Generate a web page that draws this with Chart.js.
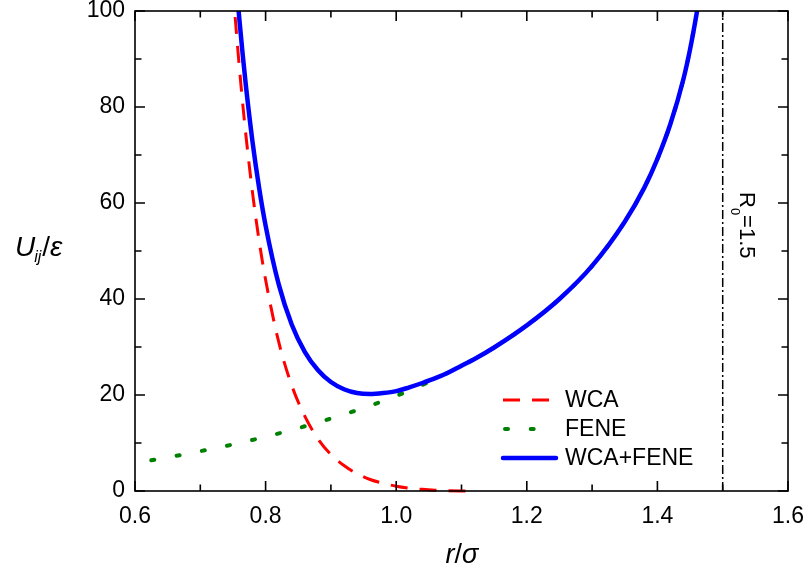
<!DOCTYPE html>
<html>
<head>
<meta charset="utf-8">
<script src="https://cdn.jsdelivr.net/npm/chart.js@4"></script>
<style>
  html, body { margin: 0; padding: 0; background: #fff; }
  #wrap { width: 809px; height: 581px; }
</style>
</head>
<body>
<div id="wrap"><canvas id="chart" width="809" height="581"></canvas></div>
<script>
// values
const rWCA = [0.75, 0.755, 0.76, 0.765, 0.77, 0.78, 0.79, 0.80, 0.82, 0.84, 0.86, 0.88, 0.90, 0.92, 0.94, 0.96, 0.98, 1.00, 1.02, 1.04, 1.06, 1.08, 1.10, 1.12];
const uWCA = [104.8, 96.0, 88.0, 80.6, 73.9, 62.1, 52.2, 44.0, 31.1, 22.0, 15.6, 10.9, 7.6, 5.3, 3.6, 2.4, 1.6, 1.0, 0.6, 0.34, 0.17, 0.07, 0.02, 0];

const rFENE = [0.625, 0.65, 0.70, 0.75, 0.80, 0.85, 0.90, 0.95, 1.00, 1.05, 1.10, 1.15, 1.20, 1.25, 1.30, 1.35, 1.38, 1.40, 1.42, 1.44, 1.45, 1.46, 1.462];
const uFENE = [6.4, 7.0, 8.3, 9.7, 11.3, 13.1, 15.1, 17.3, 19.8, 22.7, 26.1, 29.9, 34.5, 40.0, 46.9, 56.1, 63.2, 69.2, 76.5, 85.9, 92.0, 99.4, 101.1];

const rSum = [0.758, 0.76, 0.765, 0.77, 0.78, 0.79, 0.80, 0.82, 0.84, 0.86, 0.88, 0.90, 0.92, 0.94, 0.96, 0.98, 1.00, 1.02, 1.04, 1.06, 1.08, 1.10, 1.12, 1.15, 1.20, 1.25, 1.30, 1.35, 1.38, 1.40, 1.42, 1.44, 1.45, 1.46, 1.462];
const uSum = [101.1, 98.0, 90.8, 84.2, 72.7, 63.2, 55.3, 43.1, 34.7, 29.0, 25.2, 22.7, 21.2, 20.4, 20.2, 20.4, 20.8, 21.6, 22.5, 23.5, 24.7, 26.1, 27.5, 29.9, 34.5, 40.0, 46.9, 56.1, 63.2, 69.2, 76.5, 85.9, 92.0, 99.4, 101.1];

const r0 = 1.5;
const r0Span = [0, 100];

const xMajor = [0.6, 0.8, 1.0, 1.2, 1.4, 1.6];
const xMinor = [0.7, 0.9, 1.1, 1.3, 1.5];
const yMajor = [0, 20, 40, 60, 80, 100];
const yMinor = [10, 30, 50, 70, 90];

const FONT = '"Liberation Sans", Arial, Helvetica, sans-serif';

function pts(xs, ys) {
  return xs.map((x, i) => ({ x: x, y: ys[i] }));
}

// frame box + inward ticks on all four sides
const framePlugin = {
  id: "frame",
  afterDatasetsDraw(chart) {
    const { ctx, chartArea: a, scales } = chart;
    const sx = scales.x, sy = scales.y;
    ctx.save();
    ctx.strokeStyle = "#000";
    ctx.lineWidth = 1.6;
    ctx.strokeRect(a.left, a.top, a.right - a.left, a.bottom - a.top);
    ctx.beginPath();
    const tick = (vals, len) => {
      vals.forEach(v => {
        const px = sx.getPixelForValue(v);
        ctx.moveTo(px, a.bottom); ctx.lineTo(px, a.bottom - len);
        ctx.moveTo(px, a.top); ctx.lineTo(px, a.top + len);
      });
    };
    const ytick = (vals, len) => {
      vals.forEach(v => {
        const py = sy.getPixelForValue(v);
        ctx.moveTo(a.left, py); ctx.lineTo(a.left + len, py);
        ctx.moveTo(a.right, py); ctx.lineTo(a.right - len, py);
      });
    };
    tick(xMajor, 10); tick(xMinor, 6.5);
    ytick(yMajor, 10); ytick(yMinor, 6.5);
    ctx.stroke();
    ctx.restore();
  }
};

// legend, axis titles and R0 label
const textPlugin = {
  id: "texts",
  afterDraw(chart) {
    const ctx = chart.ctx;
    ctx.save();
    ctx.fillStyle = "#000";
    ctx.textAlign = "left";

    // legend
    const rows = [400, 429, 458];
    const sets = chart.data.datasets
      .filter(d => d.showInLegend)
      .sort((a, b) => a.legendOrder - b.legendOrder);
    sets.forEach((d, i) => {
      const y = rows[i];
      ctx.save();
      ctx.strokeStyle = d.borderColor;
      ctx.lineWidth = d.borderWidth;
      ctx.lineCap = d.borderCapStyle || "butt";
      ctx.setLineDash(d.borderDash || []);
      ctx.beginPath();
      ctx.moveTo(d.legendStart || 503, y);
      ctx.lineTo(556, y);
      ctx.stroke();
      ctx.restore();
      ctx.font = "23px " + FONT;
      ctx.textBaseline = "middle";
      ctx.fillText(d.label, 565, y + 1);
    });

    ctx.textBaseline = "alphabetic";

    // y title: U_ij / epsilon
    let x = 15;
    const yb = 256;
    ctx.font = "italic 28px " + FONT;
    ctx.fillText("U", x, yb); x += ctx.measureText("U").width;
    ctx.font = "italic 16px " + FONT;
    ctx.fillText("ij", x - 1, yb + 6); x += ctx.measureText("ij").width;
    ctx.font = "28px " + FONT;
    ctx.fillText("/", x, yb); x += ctx.measureText("/").width;
    ctx.font = "italic 28px " + FONT;
    ctx.fillText("\u03B5", x, yb);

    // x title: r / sigma
    ctx.font = "italic 27px " + FONT;
    const wr = ctx.measureText("r").width;
    const ws = ctx.measureText("\u03C3").width;
    ctx.font = "27px " + FONT;
    const wsl = ctx.measureText("/").width;
    let xx = 462 - (wr + wsl + ws) / 2;
    const xb = 563;
    ctx.font = "italic 27px " + FONT;
    ctx.fillText("r", xx, xb); xx += wr;
    ctx.font = "27px " + FONT;
    ctx.fillText("/", xx, xb); xx += wsl;
    ctx.font = "italic 27px " + FONT;
    ctx.fillText("\u03C3", xx, xb);

    // R0 = 1.5, rotated
    ctx.translate(740, 192);
    ctx.rotate(Math.PI / 2);
    let t = 0;
    ctx.font = "22px " + FONT;
    ctx.fillText("R", t, 0); t += ctx.measureText("R").width;
    ctx.font = "13px " + FONT;
    ctx.fillText("0", t, 9); t += ctx.measureText("0").width;
    ctx.font = "22px " + FONT;
    ctx.fillText("=1.5", t, 0);
    ctx.restore();
  }
};

new Chart(document.getElementById("chart"), {
  type: "line",
  data: {
    datasets: [
      {
        label: "WCA+FENE",
        data: pts(rSum, uSum),
        borderColor: "#0000ff",
        borderWidth: 4.5,
        borderCapStyle: "round",
        cubicInterpolationMode: "monotone",
        pointRadius: 0,
        order: 0,
        showInLegend: true,
        legendOrder: 2,
        clip: { left: 5, right: 5, top: 0, bottom: 5 },
      },
      {
        label: "WCA",
        data: pts(rWCA, uWCA),
        borderColor: "#ff0000",
        borderWidth: 3,
        borderDash: [17, 12],
        cubicInterpolationMode: "monotone",
        pointRadius: 0,
        order: 1,
        showInLegend: true,
        legendOrder: 0,
        clip: { left: 5, right: 5, top: 0, bottom: 5 },
      },
      {
        label: "FENE",
        data: pts(rFENE, uFENE),
        borderColor: "#008000",
        borderWidth: 4,
        borderDash: [3, 22.7],
        borderCapStyle: "round",
        cubicInterpolationMode: "monotone",
        pointRadius: 0,
        order: 2,
        showInLegend: true,
        legendOrder: 1,
        legendStart: 505,
        clip: { left: 5, right: 5, top: 0, bottom: 5 },
      },
      {
        label: "R0",
        data: r0Span.map(v => ({ x: r0, y: v })),
        borderColor: "#000",
        borderWidth: 1.5,
        borderDash: [9, 3, 2, 3],
        pointRadius: 0,
        order: 3,
      },
    ],
  },
  options: {
    responsive: false,
    animation: false,
    devicePixelRatio: 1,
    layout: { padding: { left: 0, top: 11, right: 21, bottom: 0 } },
    plugins: {
      legend: { display: false },
      tooltip: { enabled: false },
    },
    scales: {
      x: {
        type: "linear",
        min: 0.6,
        max: 1.6,
        grid: { display: false },
        border: { display: false },
        ticks: {
          stepSize: 0.2,
          color: "#000",
          padding: 6,
          maxRotation: 0,
          font: { family: FONT, size: 23, lineHeight: 1 },
          callback: v => v.toFixed(1),
        },
        afterFit: s => { s.height = 90; s.paddingLeft = 0; s.paddingRight = 0; },
      },
      y: {
        min: 0,
        max: 100,
        grid: { display: false },
        border: { display: false },
        ticks: {
          stepSize: 20,
          color: "#000",
          padding: 2,
          font: { family: FONT, size: 23, lineHeight: 1 },
        },
        afterFit: s => { s.width = 135; s.paddingTop = 0; s.paddingBottom = 0; },
      },
    },
  },
  plugins: [framePlugin, textPlugin],
});
</script>
</body>
</html>
